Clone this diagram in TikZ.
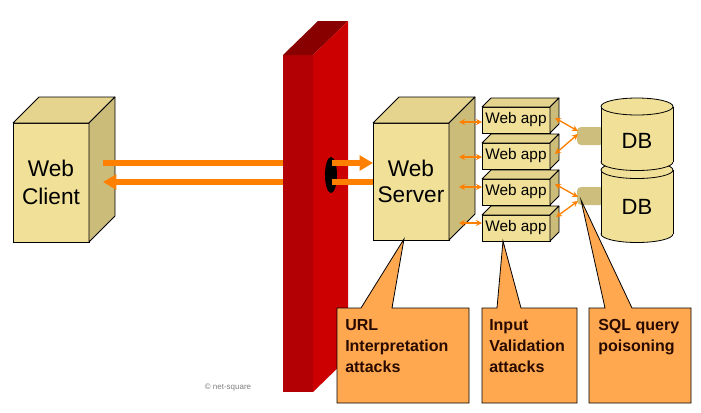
\documentclass[tikz,border=0pt]{standalone}
\usepackage{fontspec}
\setmainfont{Liberation Sans}
\usetikzlibrary{arrows.meta,calc,shapes.geometric}
\definecolor{boxfront}{RGB}{241,224,152}
\definecolor{boxside}{RGB}{204,188,122}
\definecolor{boxtop}{RGB}{228,212,142}
\definecolor{pipecol}{RGB}{205,190,125}
\definecolor{fwfront}{RGB}{178,0,4}
\definecolor{fwside}{RGB}{204,0,0}
\definecolor{fwtop}{RGB}{136,0,0}
\definecolor{arrorange}{RGB}{255,128,0}
\definecolor{callfill}{RGB}{255,168,80}
\definecolor{calltextcol}{RGB}{40,10,0}
\newcommand\cubefaces[2]{%
  \filldraw[topface] (#1.north west) -- ++(#2,-#2) -- ($(#1.north east)+(#2,-#2)$) -- (#1.north east) -- cycle;
  \filldraw[sideface] (#1.north east) -- ++(#2,-#2) -- ($(#1.south east)+(#2,-#2)$) -- (#1.south east) -- cycle;}
\begin{document}
\begin{tikzpicture}[x=0.75pt,y=-0.75pt,
  front/.style={draw=black,line width=0.6pt,fill=boxfront,outer sep=0pt,inner sep=0pt,anchor=north west,align=center},
  topface/.style={draw=black,line width=0.6pt,fill=boxtop,line join=round},
  sideface/.style={draw=black,line width=0.6pt,fill=boxside,line join=round},
  bigfont/.style={font=\fontsize{16.5}{20}\selectfont},
  appfont/.style={font=\fontsize{11.5}{13}\selectfont},
  bigline/.style={draw=arrorange,line width=3.8pt},
  bigarrow/.style={bigline,-{Triangle[length=10pt,width=11pt]}},
  smallarr/.style={draw=arrorange,line width=1pt,{Stealth[length=4.5pt,width=4.5pt]}-{Stealth[length=4.5pt,width=4.5pt]}},
  callbox/.style={draw=none,inner sep=0pt,outer sep=0pt,anchor=north west},
  callout/.style={draw=black,line width=0.6pt,fill=callfill,line join=miter},
  calltext/.style={anchor=north west,inner sep=0pt,align=left,text=calltextcol,font=\bfseries\fontsize{12}{15.75}\selectfont},
  dbbody/.style={fill=boxfront},
  dbline/.style={draw=black,line width=0.6pt}
]
\useasboundingbox[fill=white] (0,0) rectangle (701,412);

% firewall
\node[draw=none,fill=fwfront,outer sep=0pt,inner sep=0pt,anchor=north west,minimum width=30*0.75pt,minimum height=337*0.75pt] (fw) at (283,55) {};
\fill[fwtop] (fw.north west) -- ++(35,-34) -- ($(fw.north east)+(35,-34)$) -- (fw.north east) -- cycle;
\fill[fwside] (fw.north east) -- ++(35,-34) -- ($(fw.south east)+(35,-34)$) -- (fw.south east) -- cycle;
\node[ellipse,fill=black,draw=none,minimum width=12*0.75pt,minimum height=36*0.75pt,inner sep=0pt] (hole) at (331,175) {};

% web client
\node[front,minimum width=76*0.75pt,minimum height=119*0.75pt] (client) at (13,123) {};
\node[font=\fontsize{17}{21}\selectfont,align=center] (clientt) at (client.center) {Web\\Client};
\cubefaces{client}{26}

% web server
\node[front,minimum width=76*0.75pt,minimum height=117*0.75pt] (srv) at (373,123) {};
\node[font=\fontsize{17}{19}\selectfont,align=center] (srvt) at (srv.center) {Web\\Server};
\cubefaces{srv}{26}

% web apps
\foreach \i/\yy in {1/107,2/143,3/179,4/215}{
  \node[front,appfont,minimum width=68*0.75pt,minimum height=26*0.75pt] (wa\i) at (482,\yy) {Web app};
  \cubefaces{wa\i}{9}
}

% pipes
\node[fill=pipecol,rounded corners=3pt,minimum width=27*0.75pt,minimum height=18*0.75pt,inner sep=0pt,outer sep=0pt,anchor=north west] (p1) at (577,127) {};
\node[fill=pipecol,rounded corners=3pt,minimum width=27*0.75pt,minimum height=18*0.75pt,inner sep=0pt,outer sep=0pt,anchor=north west] (p2) at (577,187) {};

% DB cylinder 2 (lower)
\filldraw[dbbody,dbline] (637,234) ellipse [x radius=36,y radius=8.5];
\fill[dbbody] (601,170) rectangle (673,234);
\draw[dbline] (601,170) -- (601,234) (673,170) -- (673,234);
\filldraw[dbbody,dbline] (637,170) ellipse [x radius=36,y radius=8.5];
% DB cylinder 1 (upper)
\filldraw[dbbody,dbline] (637,162) ellipse [x radius=36,y radius=8.5];
\fill[dbbody] (601,106.5) rectangle (673,162);
\draw[dbline] (601,106.5) -- (601,162) (673,106.5) -- (673,162);
\filldraw[dbbody,dbline] (637,106.5) ellipse [x radius=36,y radius=8.5];
\node[bigfont] (db1) at (637,141) {DB};
\node[bigfont] (db2) at (637,207) {DB};

% big arrows
\coordinate (cOut) at (103,163);
\coordinate (cIn) at (103,182);
\coordinate (fwIn1) at (283,163);
\coordinate (fwIn2) at (283,182);
\coordinate (hOut1) at (332,163);
\coordinate (hOut2) at (332,182);
\coordinate (sIn1) at (373,163);
\coordinate (sIn2) at (373,182);
\draw[bigline] (cOut) -- (fwIn1);
\draw[bigarrow] (hOut1) -- (sIn1);
\draw[bigline] (sIn2) -- (hOut2);
\draw[bigarrow] (fwIn2) -- (cIn);

% small arrows server <-> web apps
\coordinate (s1) at (459,122);
\coordinate (s2) at (459,157);
\coordinate (s3) at (459,187);
\coordinate (s4) at (459,223);
\foreach \i in {1,2,3,4}{ \draw[smallarr] (s\i) -- (s\i -| wa\i.west); }

% small arrows web apps <-> DB pipes
\coordinate (r1) at (555,118);
\coordinate (r2) at (555,154);
\coordinate (r3) at (555,184);
\coordinate (r4) at (556,217);
\coordinate (q1) at (578,131);
\coordinate (q2) at (578,134);
\coordinate (q3) at (578,197);
\coordinate (q4) at (578,201);
\draw[smallarr] (r1) -- (q1);
\draw[smallarr] (r2) -- (q2);
\draw[smallarr] (r3) -- (q3);
\draw[smallarr] (r4) -- (q4);

% callouts
\coordinate (t1) at (404,239);
\coordinate (t2) at (503,241);
\coordinate (t3) at (581,200);
\node[callbox,minimum width=132*0.75pt,minimum height=95*0.75pt] (c1) at (337,308) {};
\node[callbox,minimum width=95*0.75pt,minimum height=95*0.75pt] (c2) at (482,308) {};
\node[callbox,minimum width=102*0.75pt,minimum height=95*0.75pt] (c3) at (589,308) {};
\draw[callout] (c1.north west) -- ($(c1.north west)+(24,0)$) -- (t1) -- ($(c1.north west)+(55,0)$) -- (c1.north east) -- (c1.south east) -- (c1.south west) -- cycle;
\draw[callout] (c2.north west) -- ($(c2.north west)+(15,0)$) -- (t2) -- ($(c2.north west)+(39,0)$) -- (c2.north east) -- (c2.south east) -- (c2.south west) -- cycle;
\draw[callout] (c3.north west) -- ($(c3.north west)+(16,0)$) -- (t3) -- ($(c3.north west)+(43,0)$) -- (c3.north east) -- (c3.south east) -- (c3.south west) -- cycle;
\node[calltext] (c1t) at ($(c1.north west)+(8,11)$) {URL\\Interpretation\\attacks};
\node[calltext] (c2t) at ($(c2.north west)+(7,11)$) {Input\\Validation\\attacks};
\node[calltext] (c3t) at ($(c3.north west)+(9,11)$) {SQL query\\poisoning};

% copyright
\node[font=\fontsize{6}{7}\selectfont,text=gray] (copy) at (228,388) {© net-square};
\end{tikzpicture}
\end{document}
